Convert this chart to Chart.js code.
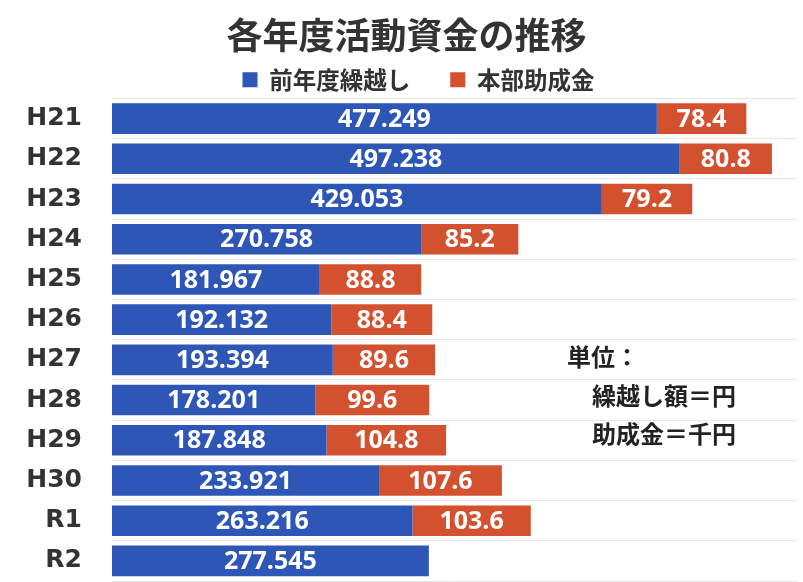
<!DOCTYPE html>
<html lang="ja">
<head>
<meta charset="utf-8">
<title>各年度活動資金の推移</title>
<script src="https://cdn.jsdelivr.net/npm/chart.js@4.4.1/dist/chart.umd.min.js"></script>
<style>
    html, body {
        margin: 0;
        padding: 0;
        background: #ffffff;
    }
    #chartWrap {
        position: relative;
        width: 803px;
        height: 582px;
    }
</style>
</head>
<body>
<div id="chartWrap">
    <canvas id="fundChart"></canvas>
</div>
<script>
const years = ["H21", "H22", "H23", "H24", "H25", "H26", "H27", "H28", "H29", "H30", "R1", "R2"];
const kurikoshi = [477.249, 497.238, 429.053, 270.758, 181.967, 192.132, 193.394, 178.201, 187.848, 233.921, 263.216, 277.545];
const joseikin = [78.4, 80.8, 79.2, 85.2, 88.8, 88.4, 89.6, 99.6, 104.8, 107.6, 103.6, null];
const seriesNames = ["前年度繰越し", "本部助成金"];
const unitLines = ["単位：", "繰越し額＝円", "助成金＝千円"];

const BLUE = "#2d56b7";
const RED = "#d4512f";
const JP_FONT = "'Noto Sans CJK JP', 'Noto Sans', sans-serif";

// white value labels centred in each bar segment
const valueLabels = {
    id: "valueLabels",
    afterDatasetsDraw(chart) {
        const ctx = chart.ctx;
        ctx.save();
        ctx.fillStyle = "#ffffff";
        ctx.font = "bold 25px 'Open Sans', sans-serif";
        ctx.textAlign = "center";
        ctx.textBaseline = "middle";
        chart.data.datasets.forEach(function (ds, i) {
            const meta = chart.getDatasetMeta(i);
            meta.data.forEach(function (bar, j) {
                const v = ds.data[j];
                if (v === null || v === undefined) return;
                ctx.fillText(String(v), (bar.x + bar.base) / 2, bar.y + 1);
            });
        });
        ctx.restore();
    },
};

// unit note on the right side
const unitNote = {
    id: "unitNote",
    afterDraw(chart) {
        const ctx = chart.ctx;
        ctx.save();
        ctx.fillStyle = "#222222";
        ctx.font = "bold 24px " + JP_FONT;
        ctx.textAlign = "left";
        ctx.textBaseline = "middle";
        ctx.fillText(unitLines[0], 567, 357);
        ctx.fillText(unitLines[1], 592, 396);
        ctx.fillText(unitLines[2], 592, 434);
        ctx.restore();
    },
};

// legend sits a little right of the canvas centre in the original
const legendShift = {
    id: "legendShift",
    afterLayout(chart) {
        if (chart.legend) {
            chart.legend.left += 12;
            chart.legend.right += 12;
        }
    },
};

function chartConfig() {
    return {
        type: "bar",
        data: {
            labels: years,
            datasets: [
                {
                    label: seriesNames[0],
                    data: kurikoshi,
                    backgroundColor: BLUE,
                    borderWidth: 0,
                    categoryPercentage: 0.76,
                    barPercentage: 1,
                },
                {
                    label: seriesNames[1],
                    data: joseikin,
                    backgroundColor: RED,
                    borderWidth: 0,
                    categoryPercentage: 0.76,
                    barPercentage: 1,
                },
            ],
        },
        options: {
            indexAxis: "y",
            responsive: true,
            maintainAspectRatio: false,
            animation: false,
            layout: {
                padding: { top: 0, right: 6, bottom: 1, left: 16 },
            },
            plugins: {
                title: {
                    display: true,
                    text: "各年度活動資金の推移",
                    color: "#333333",
                    font: { family: JP_FONT, size: 36, weight: "bold", lineHeight: 1.2 },
                    padding: { top: 14, bottom: -29.2 },
                },
                legend: {
                    position: "top",
                    align: "center",
                    maxHeight: 70.5,
                    labels: {
                        boxWidth: 15,
                        boxHeight: 15,
                        padding: 40,
                        color: "#333333",
                        font: { family: JP_FONT, size: 23.5, weight: "bold" },
                    },
                },
                tooltip: { enabled: false },
            },
            scales: {
                x: {
                    stacked: true,
                    display: false,
                    min: 0,
                    max: 600,
                },
                y: {
                    stacked: true,
                    border: { display: false },
                    grid: {
                        color: "#e6e6e6",
                        lineWidth: 1,
                        drawTicks: false,
                        offset: true,
                    },
                    ticks: {
                        color: "#333333",
                        padding: 30,
                        font: { family: "'DejaVu Sans', sans-serif", size: 25, weight: "bold" },
                    },
                    afterFit: function (scale) {
                        scale.width = 96;
                        scale.paddingTop = 0;
                        scale.paddingBottom = 0;
                    },
                },
            },
        },
        plugins: [valueLabels, unitNote, legendShift],
    };
}

const ctx = document.getElementById("fundChart").getContext("2d");
new Chart(ctx, chartConfig());
</script>
</body>
</html>
